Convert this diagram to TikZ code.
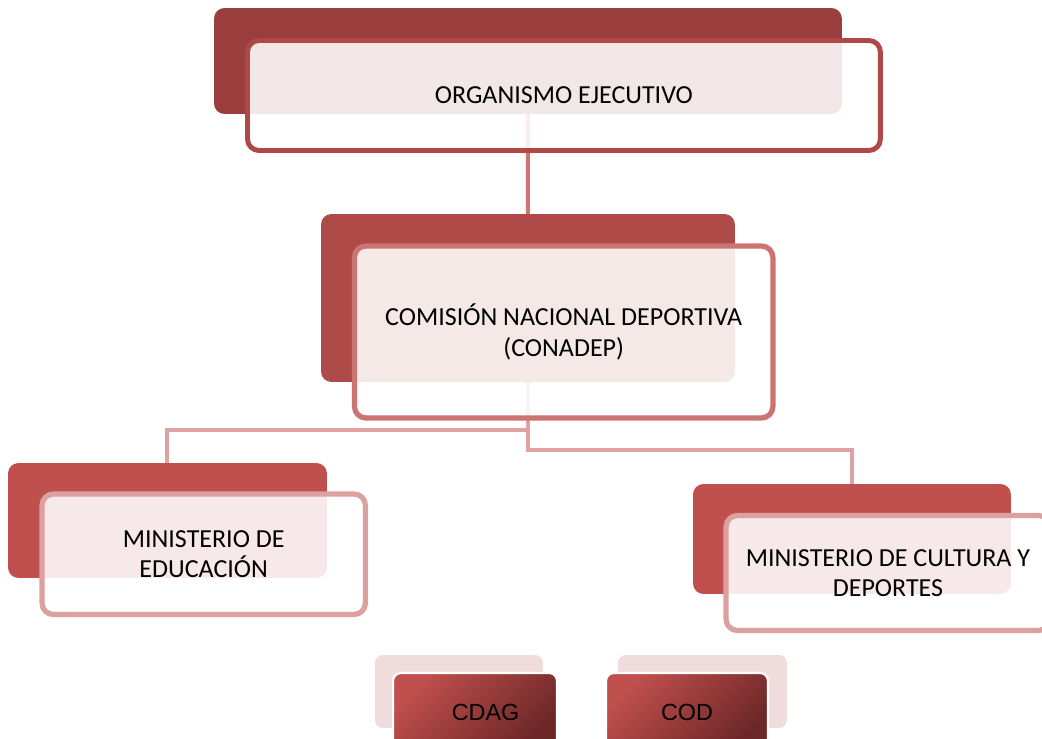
\documentclass[tikz,border=0pt]{standalone}
\usepackage{fontspec}
\setmainfont{Carlito}
\newfontfamily\arialfont{Liberation Sans}
\usetikzlibrary{calc}

\definecolor{ejeDark}{HTML}{9A3E3D}
\definecolor{ejeLine}{HTML}{B04846}
\definecolor{conDark}{HTML}{AE4B48}
\definecolor{conLine}{HTML}{CB7472}
\definecolor{minDark}{HTML}{C0504D}
\definecolor{minLine}{HTML}{DBA09F}
\definecolor{topLink}{HTML}{D07472}
\definecolor{lowLink}{HTML}{DCA3A2}
\definecolor{ligaPink}{HTML}{F0DCDC}
\definecolor{ligaDark}{HTML}{6B2626}

\tikzset{
	backbox/.style={rectangle, rounded corners=6pt, anchor=north west, inner sep=0pt, outer sep=0pt},
	frontbox/.style={rectangle, rounded corners=6.5pt, anchor=north west, inner sep=0pt, outer sep=0pt,
		fill=white, fill opacity=0.88, text opacity=1, align=center, font=\fontsize{14.8}{17.3}\selectfont},
	ligabox/.style={rectangle, rounded corners=4.5pt, anchor=north west, inner sep=0pt, outer sep=0pt,
		draw=white, line width=1.2pt, top color=minDark, bottom color=ligaDark, shading angle=45,
		font=\arialfont\fontsize{13.3}{16}\selectfont},
	link/.style={line width=2.3pt}
}

\begin{document}
\begin{tikzpicture}[x=0.02cm, y=-0.02cm]
		%%%%% START %%%%%
		\useasboundingbox (0,0) rectangle (1042,738);
		\clip (0,0) rectangle (1042,738);
		
		% back boxes
		\node[backbox, fill=ejeDark, minimum width=12.56cm, minimum height=2.12cm] (ejeB) at (214,8) {};
		\node[backbox, fill=conDark, minimum width=8.28cm, minimum height=3.36cm] (conB) at (321,214) {};
		\node[backbox, fill=minDark, minimum width=6.38cm, minimum height=2.3cm] (eduB) at (8,463) {};
		\node[backbox, fill=minDark, minimum width=6.36cm, minimum height=2.2cm] (culB) at (693,484) {};
		
		% connectors
		\draw[link, topLink] (ejeB.south) -- (conB.north);
		\draw[link, lowLink] (conB.south) -- ++(0,48) -| (eduB.north);
		\draw[link, lowLink] (conB.south) -- ++(0,68) -| (culB.north);
		
		% front boxes
		\node[frontbox, draw=ejeLine, line width=2.8pt, minimum width=12.66cm, minimum height=2.2cm] (eje) at (247.5,40.5) {ORGANISMO EJECUTIVO};
		\node[frontbox, draw=conLine, line width=3pt, minimum width=8.37cm, minimum height=3.44cm] (con) at (354.5,246) {COMISIÓN NACIONAL DEPORTIVA\\(CONADEP)};
		\node[frontbox, draw=minLine, line width=3pt, minimum width=6.47cm, minimum height=2.41cm] (edu) at (42,494) {MINISTERIO DE\\EDUCACIÓN};
		\node[frontbox, draw=minLine, line width=3pt, minimum width=6.48cm, minimum height=2.3cm] (cul) at (726,515.5) {MINISTERIO DE CULTURA Y\\DEPORTES};
		
		% federations
		\node[backbox, rounded corners=4.5pt, fill=ligaPink, minimum width=3.36cm, minimum height=1.46cm] (cdagB) at (375,655) {};
		\node[backbox, rounded corners=4.5pt, fill=ligaPink, minimum width=3.38cm, minimum height=1.46cm] (codB) at (618,655) {};
		\node[ligabox, minimum width=3.28cm, minimum height=1.56cm] (cdag) at (393,673) {\hspace{12pt}CDAG};
		\node[ligabox, minimum width=3.24cm, minimum height=1.56cm] (cod) at (606,673) {COD};
		
		%%%%% END %%%%%
\end{tikzpicture}
\end{document}
